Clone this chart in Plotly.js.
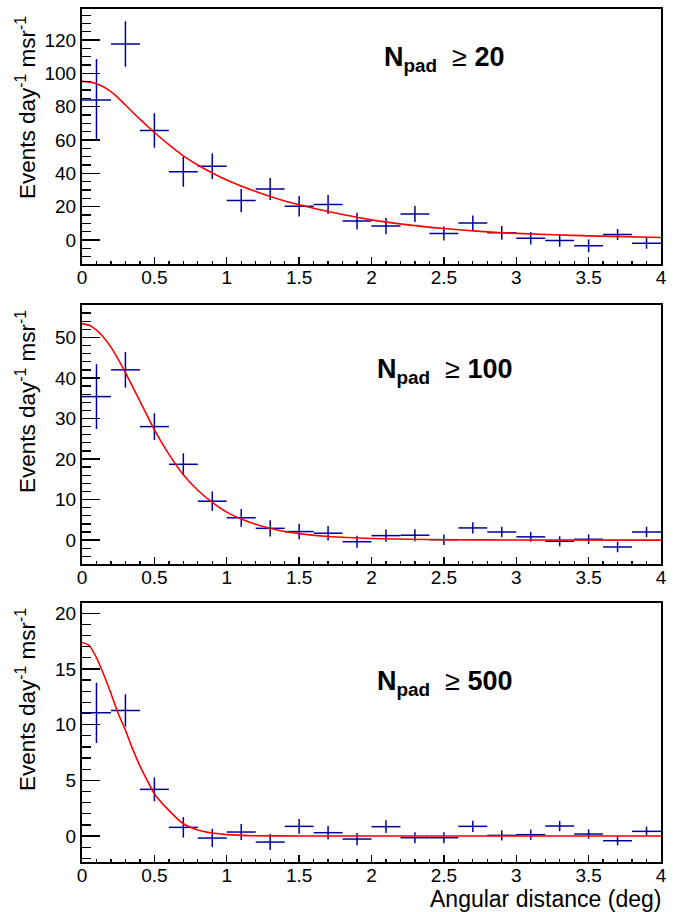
<!DOCTYPE html>
<html>
<head>
<meta charset="utf-8">
<script src="https://cdn.plot.ly/plotly-3.0.1.min.js"></script>
<style>html,body{margin:0;padding:0;background:#fff;}#chart{width:694px;height:912px;}</style>
</head>
<body>
<div id="chart"></div>
<script>
// ---- data ----
const binCenters = [0.1,0.3,0.5,0.7,0.9,1.1,1.3,1.5,1.7,1.9,2.1,2.3,2.5,2.7,2.9,3.1,3.3,3.5,3.7,3.9];
const binHalfWidth = [0.1,0.1,0.1,0.1,0.1,0.1,0.1,0.1,0.1,0.1,0.1,0.1,0.1,0.1,0.1,0.1,0.1,0.1,0.1,0.1];

const y20   = [84.1,117.7,65.7,40.9,44.2,23.6,30.6,20.2,21.2,11.3,8.3,15.5,3.8,10.1,4.2,1.0,-0.4,-3.6,3.2,-2.0];
const e20   = [24.5,13.7,10.4,9.0,7.7,7.0,6.6,6.1,5.7,5.0,4.9,4.8,4.2,4.5,4.2,3.8,3.8,3.8,3.3,3.4];

const y100  = [35.4,42.0,28.0,18.7,9.6,5.5,2.9,2.1,1.7,-0.4,1.1,1.2,0.1,3.0,2.0,0.8,-0.3,0.2,-1.7,2.0];
const e100  = [8.0,4.4,3.3,2.7,2.4,2.2,2.0,1.9,1.8,1.5,1.5,1.5,1.3,1.4,1.3,1.2,1.25,1.2,1.3,1.3];

const y500  = [11.06,11.27,4.19,0.78,-0.18,0.36,-0.54,0.87,0.30,-0.27,0.84,-0.15,-0.15,0.87,0.06,0.12,0.90,0.18,-0.42,0.42];
const e500  = [2.7,1.45,1.07,0.92,0.82,0.72,0.72,0.67,0.60,0.55,0.57,0.50,0.50,0.50,0.45,0.46,0.46,0.42,0.42,0.42];

const fit20x  = [0,0.05,0.1,0.15,0.2,0.25,0.3,0.4,0.5,0.6,0.7,0.8,0.9,1.0,1.2,1.4,1.6,1.8,2.0,2.25,2.5,2.75,3.0,3.5,4.0];
const fit20y  = [95.2,94.9,93.8,91.8,89.0,85.3,81.0,72.5,64.5,57.2,50.5,45.0,40.2,36.0,29.0,23.3,19.0,15.2,12.0,9.0,6.8,5.1,3.9,2.4,1.4];

const fit100x = [0,0.05,0.1,0.15,0.2,0.25,0.3,0.4,0.5,0.6,0.7,0.8,0.9,1.0,1.1,1.2,1.3,1.4,1.5,1.7,2.0,2.5,3.0,4.0];
const fit100y = [53.4,53.0,51.8,50.0,47.6,44.6,41.3,34.3,27.2,21.2,16.1,12.3,9.3,6.9,5.2,3.9,2.9,2.1,1.6,0.9,0.4,0.1,0.03,0.0];

const fit500x = [0,0.05,0.1,0.15,0.2,0.25,0.3,0.35,0.4,0.45,0.5,0.6,0.7,0.8,0.9,1.0,1.2,1.5,2.0,4.0];
const fit500y = [17.37,17.1,16.0,14.5,12.8,11.0,9.5,7.8,6.3,5.0,3.8,2.3,1.1,0.55,0.27,0.13,0.03,0.01,0,0];

const panelLabels = ['20','100','500'];
const xTitle = 'Angular distance (deg)';
const yTitle = 'Events day<sup>-1</sup> msr<sup>-1</sup>';

// ---- styling ----
const W = 694, H = 912;
const blue = '#00009c';
const red = '#ff0000';
const fam = 'Liberation Sans, Arial, Helvetica, sans-serif';
const tickFont = {family: fam, size: 19, color: '#000'};
const px2x = p => p / W;
const px2y = p => 1 - p / H;

const panels = [
  {y: y20, e: e20, fx: fit20x, fy: fit20y, top: 8.5, bot: 264, range: [-14.5, 139], dtick: 20, minor: 5, lab: panelLabels[0], labY: 59, titY: 108},
  {y: y100, e: e100, fx: fit100x, fy: fit100y, top: 305, bot: 564, range: [-5.9, 58.0], dtick: 10, minor: 2, lab: panelLabels[1], labY: 371, titY: 402},
  {y: y500, e: e500, fx: fit500x, fy: fit500y, top: 602.5, bot: 862, range: [-2.33, 20.96], dtick: 5, minor: 1, lab: panelLabels[2], labY: 683, titY: 700}
];

const traces = [];
const layout = {
  width: W, height: H,
  margin: {l: 0, r: 0, t: 0, b: 0},
  paper_bgcolor: '#fff', plot_bgcolor: '#fff',
  showlegend: false,
  annotations: []
};

panels.forEach((p, i) => {
  const n = i === 0 ? '' : String(i + 1);
  const xa = 'x' + n, ya = 'y' + n;
  traces.push({
    x: binCenters, y: p.y, xaxis: xa, yaxis: ya,
    type: 'scatter', mode: 'markers',
    marker: {size: 1, color: blue},
    error_x: {type: 'data', array: binHalfWidth, symmetric: true, width: 0, thickness: 1.5, color: blue},
    error_y: {type: 'data', array: p.e, symmetric: true, width: 0, thickness: 1.5, color: blue},
    hoverinfo: 'skip'
  });
  traces.push({
    x: p.fx, y: p.fy, xaxis: xa, yaxis: ya,
    type: 'scatter', mode: 'lines',
    line: {color: red, width: 1.6, shape: 'spline', smoothing: 0.6},
    hoverinfo: 'skip'
  });
  layout['xaxis' + n] = {
    domain: [px2x(82), px2x(661)], anchor: ya,
    range: [0, 4], dtick: 0.5, tick0: 0,
    ticks: 'inside', ticklen: 7, tickwidth: 1.3, tickcolor: '#000',
    minor: {ticks: 'inside', dtick: 0.1, ticklen: 3.5, tickwidth: 1.3, tickcolor: '#000'},
    showline: true, linecolor: '#000', linewidth: 2, mirror: true,
    showgrid: false, zeroline: false,
    ticklabelstandoff: -5,
    tickfont: tickFont, fixedrange: true
  };
  layout['yaxis' + n] = {
    domain: [px2y(p.bot), px2y(p.top)], anchor: xa,
    range: p.range, dtick: p.dtick, tick0: 0,
    ticks: 'inside', ticklen: 18, tickwidth: 1.3, tickcolor: '#000',
    minor: {ticks: 'inside', dtick: p.minor, ticklen: 9, tickwidth: 1.3, tickcolor: '#000'},
    showline: true, linecolor: '#000', linewidth: 2, mirror: true,
    showgrid: false, zeroline: false,
    tickfont: tickFont, fixedrange: true
  };
  layout.annotations.push({
    xref: 'paper', yref: 'paper', x: px2x(444), y: px2y(p.labY),
    xanchor: 'center', yanchor: 'middle', showarrow: false,
    text: '<b>N<sub>pad</sub></b>  \u2265 <b>' + p.lab + '</b>',
    font: {family: fam, size: 27, color: '#000'}
  });
  layout.annotations.push({
    xref: 'paper', yref: 'paper', x: px2x(26), y: px2y(p.titY),
    xanchor: 'center', yanchor: 'middle', showarrow: false, textangle: -90,
    text: yTitle,
    font: {family: fam, size: 22.5, color: '#000'}
  });
});

layout.annotations.push({
  xref: 'paper', yref: 'paper', x: px2x(663), y: px2y(899),
  xanchor: 'right', yanchor: 'middle', showarrow: false,
  text: xTitle,
  font: {family: fam, size: 23, color: '#000'}
});

Plotly.newPlot('chart', traces, layout, {staticPlot: true, displayModeBar: false});
</script>
</body>
</html>
